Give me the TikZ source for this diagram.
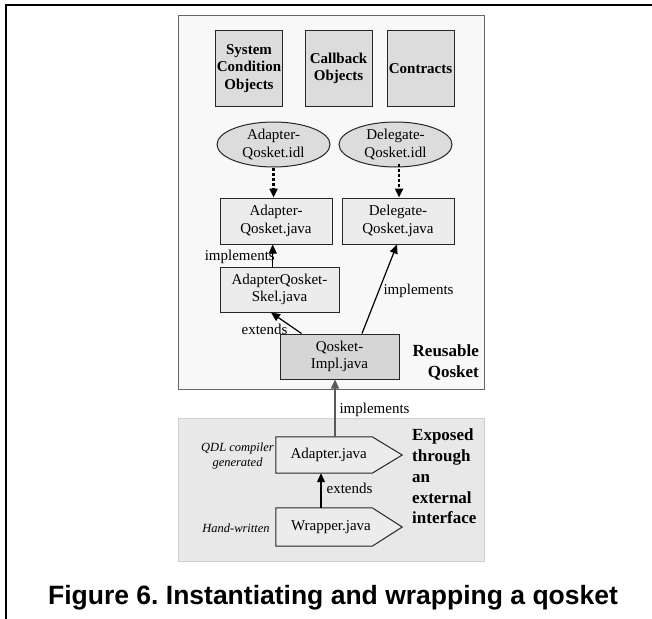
\documentclass[tikz,border=0pt]{standalone}
\usepackage{fontspec}
\setmainfont{Liberation Serif}
\newfontfamily\capfont{Liberation Sans}
\usetikzlibrary{arrows.meta,shapes.geometric,calc}
\definecolor{upbg}{HTML}{F8F8F8}
\definecolor{lowbg}{HTML}{E8E8E8}
\definecolor{lowborder}{HTML}{D0D0D0}
\definecolor{topgray}{HTML}{DCDCDC}
\definecolor{javagray}{HTML}{ECECEC}
\definecolor{implgray}{HTML}{D6D6D6}
\frenchspacing
\begin{document}
\begin{tikzpicture}[x=1pt,y=-1pt,
  regfont/.style={font=\fontsize{15}{17.5}\selectfont},
  topbox/.style={draw=black!85, line width=1pt, fill=topgray, minimum width=67pt, minimum height=75pt, inner sep=0pt, align=center, font=\fontsize{15}{17.5}\selectfont\bfseries},
  idl/.style={ellipse, draw=black!85, line width=1pt, fill=topgray, minimum width=113pt, minimum height=45pt, inner sep=0pt, align=center, regfont},
  jbox/.style={draw=black!85, line width=1pt, fill=javagray, minimum height=46pt, inner sep=0pt, align=center, regfont},
  arr/.style={-{Triangle[length=9pt,width=8pt]}, line width=1.2pt},
  dotarr/.style={-{Triangle[length=9pt,width=8pt]}, line width=2.8pt, dash pattern=on 3pt off 2pt},
  lbl/.style={regfont, inner sep=0pt},
  side/.style={font=\fontsize{17}{20.7}\selectfont\bfseries, inner sep=0pt},
  note/.style={font=\fontsize{12.5}{15}\selectfont\itshape, inner sep=0pt, align=center},
  pent/.style={draw=black!85, line width=1pt, fill=javagray},
]
\useasboundingbox (0,0) rectangle (652,618);
\fill[white] (0,0) rectangle (652,618);
% outer frame
\draw[line width=2pt] (6,620) -- (6,5) -- (654,5);

% containers
\node[draw=black!60, line width=1pt, fill=upbg, minimum width=306pt, minimum height=373pt, inner sep=0pt] (reuse) at (331,202.5) {};
\node[draw=lowborder, line width=1pt, fill=lowbg, minimum width=306pt, minimum height=143pt, inner sep=0pt] (expo) at (331,489.5) {};

% top boxes
\node[topbox] (sco) at (249,68.5) {System\\Condition\\Objects};
\node[topbox] (cb) at (338.5,68.5) {Callback\\Objects};
\node[topbox] (con) at (420.5,68.5) {Contracts};

% idl ellipses
\node[idl] (aidl) at (273.5,144.5) {Adapter-\\Qosket.idl};
\node[idl] (didl) at (395.5,144.5) {Delegate-\\Qosket.idl};

% java boxes
\node[jbox, minimum width=112pt] (aj) at (276,221) {Adapter-\\Qosket.java};
\node[jbox, minimum width=112pt] (dj) at (398,221) {Delegate-\\Qosket.java};
\node[jbox, minimum width=119pt, minimum height=45pt] (skel) at (279.5,289.5) {AdapterQosket-\\Skel.java};
\node[jbox, minimum width=119pt, minimum height=45pt, fill=implgray] (impl) at (339.5,356.5) {Qosket-\\Impl.java};

% pentagons
\node[inner sep=0pt, minimum width=96pt, minimum height=36pt] (adj) at (324,455) {};
\draw[pent] (adj.north west) -- (adj.north east) -- ($(adj.east)+(30,0)$) -- (adj.south east) -- (adj.south west) -- cycle;
\node[lbl] (adjt) at (328.7,455) {Adapter.java};
\node[inner sep=0pt, minimum width=96pt, minimum height=38pt] (wr) at (324,527) {};
\draw[pent] (wr.north west) -- (wr.north east) -- ($(wr.east)+(30,0)$) -- (wr.south east) -- (wr.south west) -- cycle;
\node[lbl] (wrt) at (331,527) {Wrapper.java};

% dotted arrows
\draw[dotarr] (aidl.south) -- (aidl.south |- aj.north);
\draw[dotarr] ([xshift=3.5pt,yshift=4pt]didl.south) -- ([xshift=1pt]dj.north);

% arrows
\draw[arr] ([xshift=-6.8pt]skel.north) -- ([xshift=-3.3pt]aj.south);
\draw[arr] ([xshift=22pt]impl.north west) -- ([xshift=-8.5pt]skel.south);
\draw[arr] ([xshift=22.5pt]impl.north) -- ([xshift=-1pt]dj.south);
\draw[arr, draw=black!65] ([xshift=11pt]adj.north) -- ([xshift=-4.5pt]impl.south);
\draw[arr] ([xshift=-3pt]wr.north) -- ([xshift=-3pt]adj.south);

% arrow labels
\node[lbl, anchor=east] (l1) at (275,257) {implements};
\node[lbl] (l2) at (264.5,329) {extends};
\node[lbl] (l3) at (418.5,291) {implements};
\node[lbl] (l4) at (374.5,410) {implements};
\node[lbl] (l5) at (349.5,488) {extends};

% side texts
\node[side, align=right, anchor=east] (rq) at (479,362.5) {Reusable\\Qosket};
\node[side, align=left, anchor=west] (ex) at (412,476.5) {Exposed\\through\\an\\external\\interface};
\node[note] (qdl) at (237.5,455.5) {QDL compiler\\generated};
\node[note] (hw) at (236,528) {Hand-written};

% caption
\node[font=\capfont\bfseries\fontsize{26.5}{30}\selectfont, anchor=base, inner sep=0pt] (cap) at (333,604) {Figure 6. Instantiating and wrapping a qosket};
\end{tikzpicture}
\end{document}
